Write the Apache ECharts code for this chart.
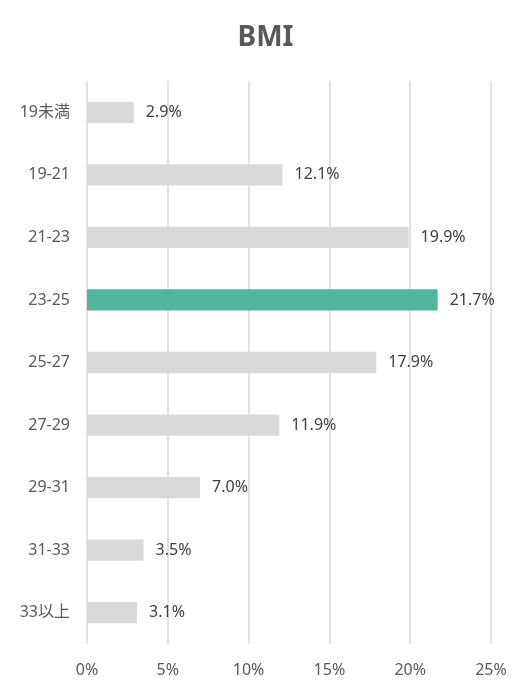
<!DOCTYPE html>
<html>
<head>
<meta charset="utf-8">
<script src="https://cdn.jsdelivr.net/npm/echarts@6/dist/echarts.min.js"></script>
<style>
  html, body { margin: 0; padding: 0; background: #fff; }
  #chart { width: 531px; height: 691px; }
</style>
</head>
<body>
<div id="chart"></div>
<script>
  // BMI区分ごとの割合(%)
  var categories = ['19未満', '19-21', '21-23', '23-25', '25-27', '27-29', '29-31', '31-33', '33以上'];
  var values = [2.9, 12.1, 19.9, 21.7, 17.9, 11.9, 7.0, 3.5, 3.1];
  var highlight = '23-25';
  var xTicks = [0, 5, 10, 15, 20, 25];

  var font = '"Noto Sans", "Noto Sans CJK JP", sans-serif';

  var chart = echarts.init(document.getElementById('chart'));

  var option = {
    backgroundColor: '#ffffff',
    animation: false,
    title: {
      text: 'BMI',
      left: 'center',
      top: 19,
      textStyle: { fontFamily: font, fontSize: 28, fontWeight: 'bold', color: '#595959' }
    },
    grid: { left: 87, right: 40, top: 81, bottom: 47, containLabel: false },
    xAxis: {
      type: 'value',
      min: xTicks[0],
      max: xTicks[xTicks.length - 1],
      interval: 5,
      axisLine: { show: false },
      axisTick: { show: false },
      axisLabel: {
        formatter: '{value}%',
        fontFamily: font,
        fontSize: 16,
        color: '#595959',
        margin: 18
      },
      splitLine: { show: true, lineStyle: { color: '#d9d9d9', width: 1.5 } }
    },
    yAxis: {
      type: 'category',
      data: categories,
      inverse: true,
      axisLine: { show: false },
      axisTick: { show: false },
      axisLabel: {
        fontFamily: font,
        fontSize: 16,
        color: '#595959',
        margin: 17
      }
    },
    series: [{
      type: 'bar',
      barWidth: '34%',
      data: values.map(function (v, i) {
        return {
          value: v,
          itemStyle: { color: categories[i] === highlight ? '#52b69d' : '#d9d9d9' }
        };
      }),
      label: {
        show: true,
        position: 'right',
        distance: 12,
        formatter: function (p) { return p.value.toFixed(1) + '%'; },
        fontFamily: font,
        fontSize: 16,
        color: '#404040'
      }
    }]
  };

  chart.setOption(option);
</script>
</body>
</html>
